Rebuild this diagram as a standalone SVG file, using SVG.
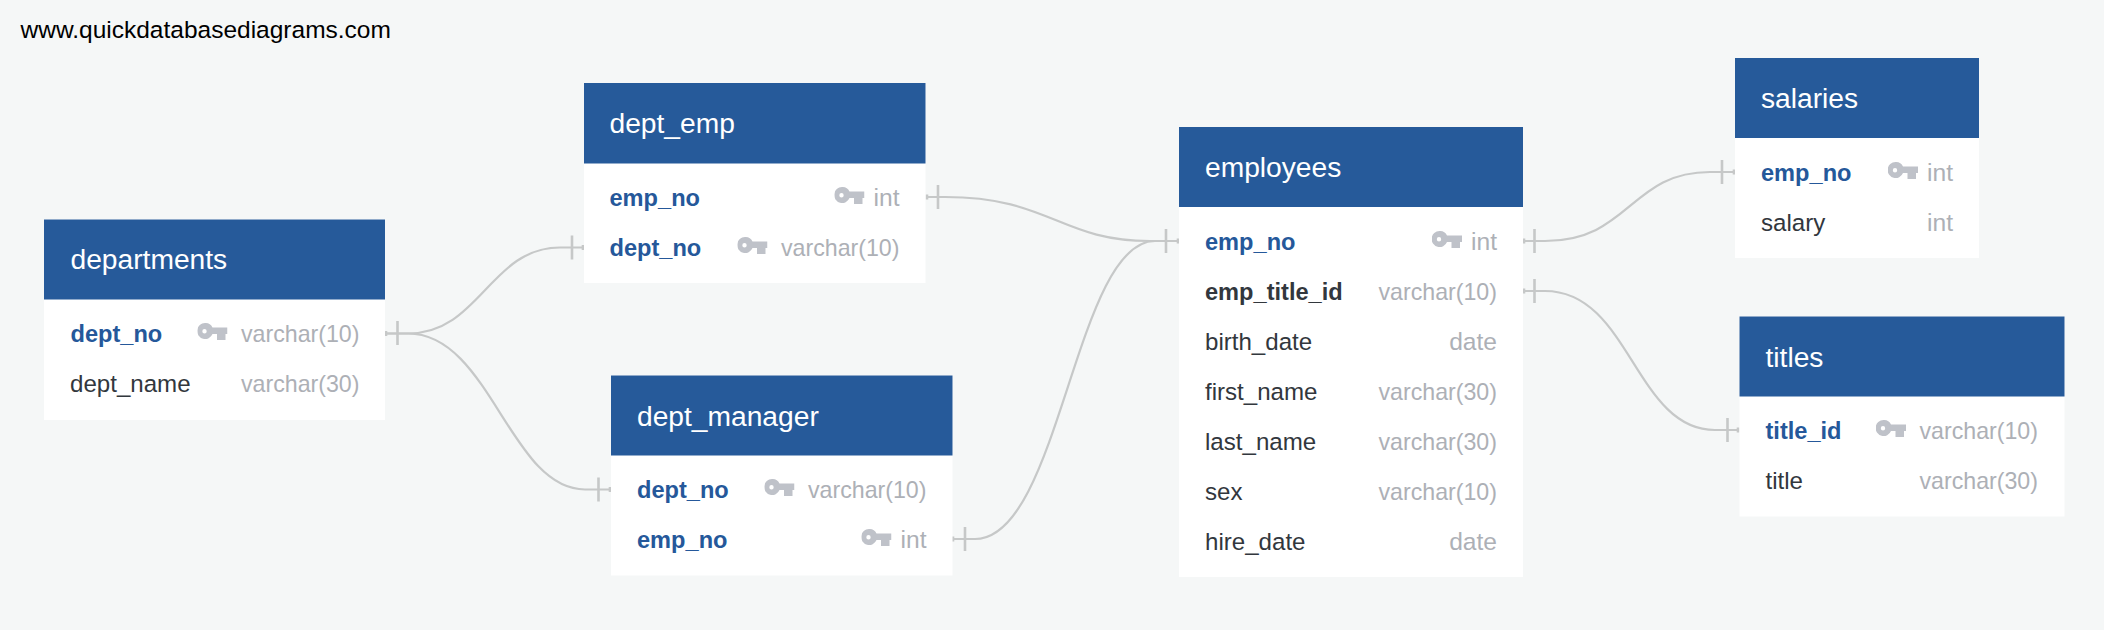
<svg xmlns="http://www.w3.org/2000/svg" width="2104" height="630" viewBox="0 0 2104 630">
<style>
text{font-family:"Liberation Sans",Arial,Helvetica,sans-serif}
.site{font-size:24.5px;fill:#000}
.hd{fill:#265a9a}
.bd{fill:#fff}
.ti{font-size:28.2px;fill:#fff}
.pk{font-size:23.6px;font-weight:700;fill:#25589a}
.fk{font-size:23.6px;font-weight:700;fill:#32373d}
.nm{font-size:24.1px;fill:#32373d}
.ty{font-size:23.2px;fill:#adb0b6;text-anchor:end}
.ts{font-size:24.6px;fill:#adb0b6;text-anchor:end}
.ln{fill:none;stroke:#c6c8c8;stroke-width:2.2}
.tk{fill:none;stroke:#c6c8c8;stroke-width:2.6}
</style>
<defs>
<symbol id="key" width="30" height="17" viewBox="0 0 30 17">
<path fill="#bfc2c9" fill-rule="evenodd" d="M7.500 0A8 8 0 0 1 15 4.500H30V11H28V17H19.500V11H15A8 8 0 1 1 7.500 0ZM7 6A2.200 2.200 0 1 0 7 10.400A2.200 2.200 0 1 0 7 6Z"/>
</symbol>
</defs>
<rect width="2104" height="630" fill="#f5f7f7"/>
<text id="site" class="site" x="20.500" y="38">www.quickdatabasediagrams.com</text>

<g id="connectors">
<path class="ln" d="M385 333.500H408C480 333.500 490 247.500 560 247.500H584"/>
<path class="ln" d="M385 333.500H408C490 333.500 510 489.500 585 489.500H611"/>
<path class="ln" d="M926 197H945C1050 197 1060 241 1150 241H1179"/>
<path class="ln" d="M952 539H975C1060 539 1075 241 1155 241H1179"/>
<path class="ln" d="M1523 241H1545C1630 241 1630 172 1710 172H1735"/>
<path class="ln" d="M1523 291H1545C1630 291 1635 430 1715 430H1739"/>
<path class="tk" d="M397.500 321V345M386 331V336M572 235.500V259.500M583 245V250M598.500 477.500V501.500M610 487V492M938 185V209M927 194.500V199.500M1166 229V253M1178 238.500V243.500M965 527V551M953 536.500V541.500M1534.500 229V253M1524 238.500V243.500M1722 160V184M1734 169.500V174.500M1534.500 279V303M1524 288.500V293.500M1727.500 418V442M1738 427.500V432.500"/>
</g>

<g id="departments">
<rect class="bd" x="44" y="219.500" width="341" height="200.500"/>
<rect class="hd" x="44" y="219.500" width="341" height="80"/>
<text class="ti" x="70.500" y="269">departments</text>
<text class="pk" x="70.500" y="341.600">dept_no</text>
<use href="#key" x="197.500" y="323"/>
<text class="ty" x="359.500" y="341.600">varchar(10)</text>
<text class="nm" x="70" y="391.600">dept_name</text>
<text class="ty" x="359.500" y="391.600">varchar(30)</text>
</g>

<g id="dept_emp">
<rect class="bd" x="584" y="83" width="341.500" height="200"/>
<rect class="hd" x="584" y="83" width="341.500" height="80.500"/>
<text class="ti" x="609.500" y="133">dept_emp</text>
<text class="pk" x="609.500" y="205.600">emp_no</text>
<use href="#key" x="834.500" y="187"/>
<text class="ts" x="899.500" y="205.600">int</text>
<text class="pk" x="609.500" y="255.600">dept_no</text>
<use href="#key" x="737.500" y="237"/>
<text class="ty" x="899.500" y="255.600">varchar(10)</text>
</g>

<g id="dept_manager">
<rect class="bd" x="611" y="375.500" width="341.500" height="200"/>
<rect class="hd" x="611" y="375.500" width="341.500" height="80"/>
<text class="ti" x="637" y="425.500">dept_manager</text>
<text class="pk" x="637" y="497.600">dept_no</text>
<use href="#key" x="764.500" y="479"/>
<text class="ty" x="926.500" y="497.600">varchar(10)</text>
<text class="pk" x="637" y="547.600">emp_no</text>
<use href="#key" x="861.500" y="529"/>
<text class="ts" x="926.500" y="547.600">int</text>
</g>

<g id="employees">
<rect class="bd" x="1179" y="127" width="344" height="450"/>
<rect class="hd" x="1179" y="127" width="344" height="80"/>
<text class="ti" x="1205" y="177">employees</text>
<text class="pk" x="1205" y="249.600">emp_no</text>
<use href="#key" x="1432" y="231"/>
<text class="ts" x="1497" y="249.600">int</text>
<text class="fk" x="1205" y="299.600">emp_title_id</text>
<text class="ty" x="1497" y="299.600">varchar(10)</text>
<text class="nm" x="1205" y="349.600">birth_date</text>
<text class="ts" x="1497" y="349.600">date</text>
<text class="nm" x="1205" y="399.600">first_name</text>
<text class="ty" x="1497" y="399.600">varchar(30)</text>
<text class="nm" x="1205" y="449.600">last_name</text>
<text class="ty" x="1497" y="449.600">varchar(30)</text>
<text class="nm" x="1205" y="499.600">sex</text>
<text class="ty" x="1497" y="499.600">varchar(10)</text>
<text class="nm" x="1205" y="549.600">hire_date</text>
<text class="ts" x="1497" y="549.600">date</text>
</g>

<g id="salaries">
<rect class="bd" x="1735" y="58" width="244" height="200"/>
<rect class="hd" x="1735" y="58" width="244" height="80"/>
<text class="ti" x="1761" y="108">salaries</text>
<text class="pk" x="1761" y="180.600">emp_no</text>
<use href="#key" x="1888" y="162"/>
<text class="ts" x="1953" y="180.600">int</text>
<text class="nm" x="1761" y="230.600">salary</text>
<text class="ts" x="1953" y="230.600">int</text>
</g>

<g id="titles">
<rect class="bd" x="1739.500" y="316.500" width="325" height="200"/>
<rect class="hd" x="1739.500" y="316.500" width="325" height="80"/>
<text class="ti" x="1765.500" y="366.500">titles</text>
<text class="pk" x="1765.500" y="438.600">title_id</text>
<use href="#key" x="1876" y="420"/>
<text class="ty" x="2038" y="438.600">varchar(10)</text>
<text class="nm" x="1765.500" y="488.600">title</text>
<text class="ty" x="2038" y="488.600">varchar(30)</text>
</g>
</svg>
